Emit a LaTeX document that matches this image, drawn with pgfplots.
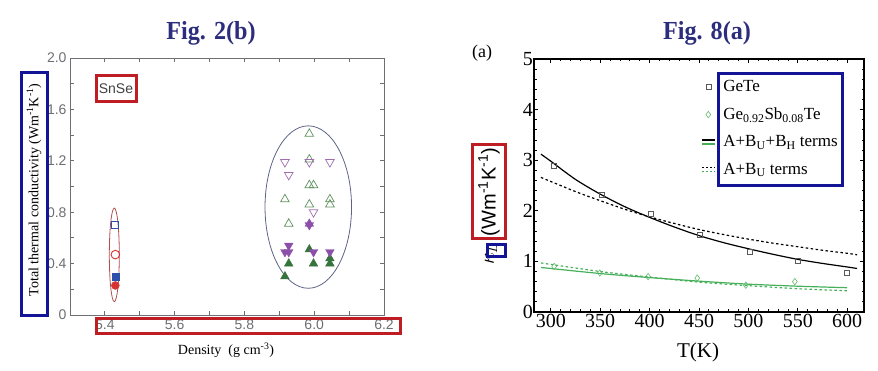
\documentclass[border=0pt]{standalone}
\usepackage{fontspec}
\setmainfont{Liberation Serif}
\setsansfont{Liberation Sans}
\usepackage{pgfplots}
\pgfplotsset{compat=1.18}
\definecolor{navy}{RGB}{45,45,125}
\definecolor{boxred}{RGB}{190,30,35}
\definecolor{boxblue}{RGB}{20,20,150}
\definecolor{axgray}{RGB}{110,110,115}
\definecolor{ellred}{RGB}{175,80,80}
\definecolor{ellblue}{RGB}{95,100,135}
\definecolor{gopen}{RGB}{95,145,95}
\definecolor{gfill}{RGB}{55,115,60}
\definecolor{popen}{RGB}{160,110,175}
\definecolor{pfill}{RGB}{140,80,170}
\definecolor{mblue}{RGB}{45,80,170}
\definecolor{mred}{RGB}{215,50,50}
\definecolor{cgreen}{RGB}{70,175,90}
\definecolor{dgreen}{RGB}{100,185,110}
\begin{document}
\begin{tikzpicture}
\path[use as bounding box] (0pt,0pt) rectangle (878pt,371pt);
% titles
\node[font=\fontsize{26}{26}\selectfont\bfseries, text=navy, xscale=0.93] at (211pt,338pt) {Fig. 2(b)};
\node[font=\fontsize{26}{26}\selectfont\bfseries, text=navy, xscale=0.93] at (707pt,338pt) {Fig. 8(a)};
% ---------------- left panel
\begin{axis}[
  at={(70pt,56pt)}, anchor=south west, scale only axis,
  width=314pt, height=257pt,
  xmin=5.3, xmax=6.2, ymin=0, ymax=2,
  axis line style={axgray, line width=0.8pt},
  every tick/.style={axgray, line width=0.8pt},
  major tick length=4pt, minor tick length=4pt,
  xtick={5.4,5.6,5.8,6.0,6.2}, xticklabels={5.4,5.6,5.8,6.0,6.2},
  minor x tick num=1,
  ytick={0,0.4,0.8,1.2,1.6,2.0}, yticklabels={0,0.4,0.8,1.2,1.6,2.0},
  minor y tick num=1,
  tick label style={font=\sffamily\fontsize{14}{14}\selectfont, text=axgray},
  xticklabel style={yshift=-1pt},
  clip=false,
]
\draw[ellred, line width=0.8pt] (axis cs:5.427,0.468) ellipse [x radius=0.0143, y radius=0.364];
\draw[ellblue, line width=0.8pt] (axis cs:5.983,0.84) ellipse [x radius=0.124, y radius=0.632];
% SnSe group
\addplot[only marks, mark=square, mark size=3.5pt, mblue, line width=0.9pt] coordinates {(5.43,0.70)};
\addplot[only marks, mark=o, mark size=4.3pt, mred, line width=0.9pt] coordinates {(5.43,0.47)};
\addplot[only marks, mark=square*, mark size=3.5pt, mblue] coordinates {(5.43,0.30)};
\addplot[only marks, mark=*, mark size=4pt, mred] coordinates {(5.43,0.23)};
% open green up triangles
\addplot[only marks, mark=triangle, mark size=5pt, gopen, line width=0.7pt] coordinates {
(5.986,1.41) (5.986,1.01) (5.998,1.01) (5.916,0.90) (6.045,0.90) (6.045,0.86) (5.986,0.86) (5.927,0.71) (5.986,1.21)};
% open purple down triangles
\addplot[only marks, mark=triangle, mark size=5pt, popen, line width=0.7pt, mark options={rotate=180}] coordinates {
(5.916,1.19) (6.045,1.19) (5.927,1.09) (5.998,0.80) (5.986,1.19)};
% filled purple star
\addplot[only marks, mark=triangle*, mark size=5pt, pfill, mark options={rotate=180}] coordinates {(5.986,0.70)};
\addplot[only marks, mark=triangle*, mark size=5pt, pfill] coordinates {(5.986,0.71)};
% filled green up triangles
\addplot[only marks, mark=triangle*, mark size=5pt, gfill] coordinates {
(5.986,0.51) (5.927,0.40) (5.998,0.40) (6.045,0.40) (6.045,0.44) (5.916,0.30)};
% filled purple down triangles
\addplot[only marks, mark=triangle*, mark size=5pt, pfill, mark options={rotate=180}] coordinates {
(5.927,0.54) (5.916,0.49) (5.927,0.49) (5.998,0.49) (6.045,0.49)};
\end{axis}
\node[rotate=90, font=\fontsize{14}{14}\selectfont] at (34pt,181pt) {Total thermal conductivity (Wm\textsuperscript{-1}K\textsuperscript{-1})};
\node[font=\fontsize{14}{14}\selectfont] at (226pt,21pt) {Density\ \ (g cm\textsuperscript{-3})};
\node[font=\sffamily\fontsize{14}{14}\selectfont, text=black!75] at (116pt,282pt) {SnSe};
\draw[boxred, line width=3pt] (96pt,269pt) rectangle (136pt,295pt);
\draw[boxred, line width=3pt] (96pt,37pt) rectangle (400pt,52pt);
\draw[boxblue, line width=3pt] (21pt,55pt) rectangle (47pt,298pt);
% ---------------- right panel
\begin{axis}[
  at={(534pt,59pt)}, anchor=south west, scale only axis,
  width=330pt, height=253pt,
  xmin=283, xmax=617, ymin=0, ymax=5,
  axis line style={black, line width=2.5pt},
  every tick/.style={black, line width=0.8pt},
  major tick length=4pt, minor tick length=2.5pt,
  xtick={300,350,...,600}, minor x tick num=4,
  ytick={0,1,...,5}, minor y tick num=4,
  xticklabels={300,350,400,450,500,550,600},
  yticklabels={0,1,2,3,4,5},
  tick label style={font=\fontsize{20}{20}\selectfont},
  yticklabel style={inner sep=1pt},
  xticklabel style={inner sep=2pt},
  legend style={at={(rel axis cs:0.506,0.923)}, anchor=north west, draw=none, fill=none,
    font=\fontsize{17}{17}\selectfont, row sep=10.5pt, inner sep=0pt,
    /tikz/every odd column/.append style={column sep=6pt}},
  legend cell align=left,
  clip=false,
]
\addplot[only marks, mark=square, mark size=2.5pt, black!65, line width=0.6pt] coordinates {
(303.4,2.89) (351.3,2.31) (401.2,1.95) (450.9,1.52) (501.5,1.18) (550.4,1.02) (600,0.78)};
\addlegendentry{GeTe}
\addplot[only marks, mark=diamond, mark size=3.2pt, dgreen, line width=0.6pt] coordinates {
(303.4,0.90) (349.6,0.77) (398.5,0.70) (448.2,0.67) (497.4,0.53) (547,0.60)};
\addlegendentry{Ge\textsubscript{0.92}Sb\textsubscript{0.08}Te}
\addplot[black, line width=1.2pt, smooth, forget plot] coordinates {
(290,3.12) (300,2.98) (325,2.62) (350,2.33) (375,2.08) (400,1.87) (425,1.68) (450,1.51) (475,1.37) (500,1.25) (525,1.14) (550,1.04) (575,0.96) (600,0.89) (610,0.86)};
\addplot[black, line width=1.2pt, dash pattern=on 2.5pt off 2.5pt, smooth, forget plot] coordinates {
(290,2.66) (325,2.38) (350,2.20) (375,2.03) (400,1.88) (425,1.75) (450,1.63) (475,1.53) (500,1.44) (525,1.36) (550,1.29) (575,1.22) (600,1.16) (610,1.13)};
\addplot[cgreen, line width=1.2pt, smooth, forget plot] coordinates {
(290,0.88) (350,0.76) (400,0.68) (450,0.61) (500,0.55) (550,0.51) (600,0.48)};
\addplot[cgreen, line width=1.2pt, dash pattern=on 2.5pt off 2.5pt, smooth, forget plot] coordinates {
(290,0.97) (350,0.80) (400,0.69) (450,0.59) (500,0.52) (550,0.46) (600,0.42)};
\addlegendimage{legend image code/.code={
  \draw[black, line width=1.2pt] (2pt,2pt) -- (15pt,2pt);
  \draw[cgreen, line width=1.2pt] (2pt,-2pt) -- (15pt,-2pt);}}
\addlegendentry{A+B\textsubscript{U}+B\textsubscript{H} terms}
\addlegendimage{legend image code/.code={
  \draw[black, line width=1.2pt, dash pattern=on 2pt off 2pt] (2pt,2pt) -- (15pt,2pt);
  \draw[cgreen, line width=1.2pt, dash pattern=on 2pt off 2pt] (2pt,-2pt) -- (15pt,-2pt);}}
\addlegendentry{A+B\textsubscript{U} terms}
\end{axis}
\node[font=\fontsize{18}{18}\selectfont] at (482pt,318pt) {(a)};
\node[font=\fontsize{21}{21}\selectfont] at (698pt,19pt) {T(K)};
\node[rotate=90, font=\fontsize{21}{21}\selectfont] at (491pt,117pt) {$\kappa_L$};
\node[rotate=90, font=\sffamily\fontsize{20}{20}\selectfont] at (489pt,179pt) {(Wm\textsuperscript{-1}K\textsuperscript{-1})};
\draw[boxred, line width=3pt] (472pt,132pt) rectangle (505pt,226pt);
\draw[boxblue, line width=3pt] (487pt,114pt) rectangle (505pt,126pt);
\draw[boxblue, line width=3pt] (718pt,185pt) rectangle (842pt,297pt);
\end{tikzpicture}
\end{document}
